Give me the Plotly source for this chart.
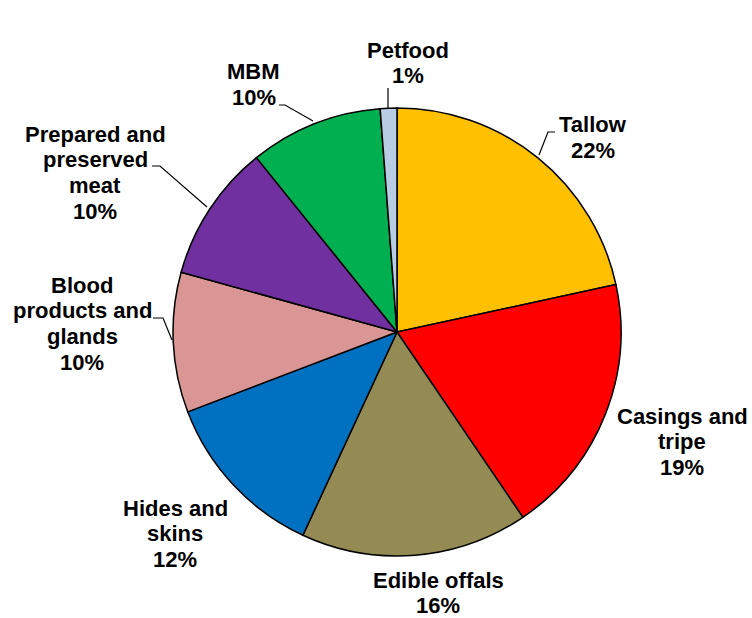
import plotly.graph_objects as go

W, H = 752, 618

categories = ["Tallow", "Casings and tripe", "Edible offals", "Hides and skins",
              "Blood products and glands", "Prepared and preserved meat", "MBM", "Petfood"]
values = [21.6, 18.9, 16.4, 12.3, 10.1, 9.9, 9.6, 1.2]
colors = ["#FFC000", "#FF0000", "#948A54", "#0070C0", "#DA9694", "#7030A0", "#00B050", "#B8CCE4"]
# label text split into lines as displayed
label_lines = {
    "Tallow": ["Tallow"],
    "Casings and tripe": ["Casings and", "tripe"],
    "Edible offals": ["Edible offals"],
    "Hides and skins": ["Hides and", "skins"],
    "Blood products and glands": ["Blood", "products and", "glands"],
    "Prepared and preserved meat": ["Prepared and", "preserved", "meat"],
    "MBM": ["MBM"],
    "Petfood": ["Petfood"],
}
# label block: center x and first-line center y (pixels)
label_pos = {
    "Tallow": (593, 125),
    "Casings and tripe": (682, 416),
    "Edible offals": (438, 580),
    "Hides and skins": (175, 508),
    "Blood products and glands": (82, 285),
    "Prepared and preserved meat": (95, 134),
    "MBM": (254, 72),
    "Petfood": (408, 50),
}
LINE = 25.8
# leader lines in pixels
leaders = {
    "Tallow": [(555, 132), (548, 132), (539, 155)],
    "MBM": [(279, 105), (285, 105), (313, 121)],
    "Prepared and preserved meat": [(152, 166), (160, 166), (207, 207)],
    "Blood products and glands": [(153, 318), (163, 318), (172, 340)],
    "Petfood": [(388, 88), (388, 108)],
}


def px(x, y):
    return x / W, 1 - y / H


total = sum(values)
pcts = [round(v / total * 100) for v in values]

cx, cy, r = 397, 332, 224
x0, y0 = px(cx - r, cy + r)
x1, y1 = px(cx + r, cy - r)

fig = go.Figure(go.Pie(
    labels=categories, values=values, sort=False, direction="clockwise", rotation=0,
    marker=dict(colors=colors, line=dict(color="black", width=1.5)),
    textinfo="none", hoverinfo="label+percent", showlegend=False,
    domain=dict(x=[x0, x1], y=[y0, y1]),
))

annotations = []
for cat, p in zip(categories, pcts):
    lines = label_lines[cat] + [f"{p}%"]
    lx, ly = label_pos[cat]
    for i, l in enumerate(lines):
        ax, ay = px(lx, ly + i * LINE)
        annotations.append(dict(
            x=ax, y=ay, xref="paper", yref="paper", xanchor="center", yanchor="middle",
            text=f"<b>{l}</b>", showarrow=False, align="center",
            font=dict(family="Liberation Sans, Arial", size=22, color="black"),
        ))

shapes = []
for cat, pts in leaders.items():
    path = ""
    for i, (x, y) in enumerate(pts):
        qx, qy = px(x, y)
        path += ("M" if i == 0 else "L") + f" {qx} {qy} "
    shapes.append(dict(type="path", xref="paper", yref="paper", path=path,
                       line=dict(color="black", width=1.2)))

fig.update_layout(
    width=W, height=H, margin=dict(l=0, r=0, t=0, b=0),
    paper_bgcolor="white", plot_bgcolor="white",
    annotations=annotations, shapes=shapes,
)
fig.write_html(
    "out.html",
    config={"displayModeBar": False},
    post_script="document.body.style.margin='0px';document.body.style.overflow='hidden';",
)
